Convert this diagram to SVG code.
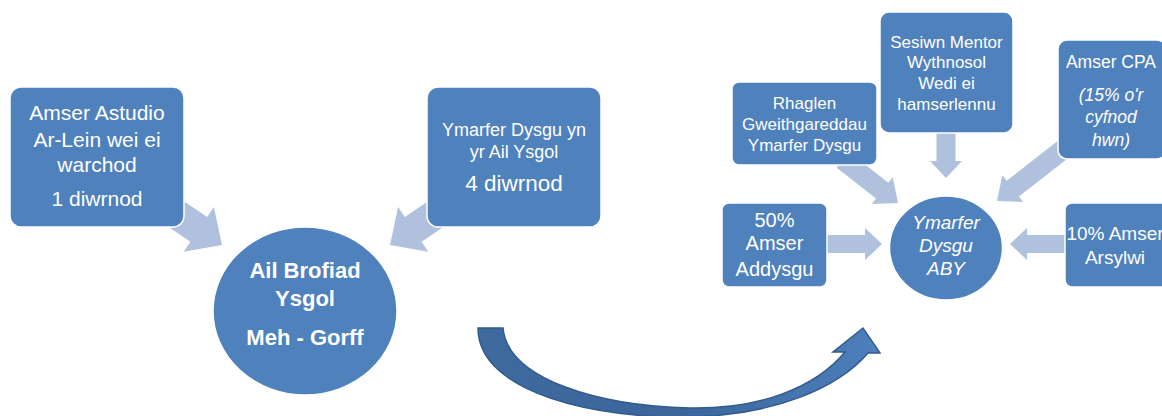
<svg xmlns="http://www.w3.org/2000/svg" width="1162" height="416" viewBox="0 0 1162 416">
<defs>
<linearGradient id="cg" x1="0" y1="0" x2="1" y2="0">
<stop offset="0" stop-color="#3f6aa0"/>
<stop offset="0.5" stop-color="#3b659b"/>
<stop offset="1" stop-color="#4e80bd"/>
</linearGradient>
</defs>
<style>
.box{fill:#4f81bd;stroke:#ffffff;stroke-width:1.5}
.arr{fill:#b0c1de}
.t{fill:#ffffff;font-family:"Liberation Sans",Arial,sans-serif;text-anchor:middle}
.b{font-weight:bold}
.i{font-style:italic}
</style>
<rect width="1162" height="416" fill="#ffffff"/>
<g id="connectors">
<polygon class="arr" transform="translate(222,245) rotate(34)" points="0,0 -28,-27 -28,-15 -70,-15 -70,15 -28,15 -28,27"/>
<polygon class="arr" transform="translate(390,245) rotate(146)" points="0,0 -28,-27 -28,-15 -70,-15 -70,15 -28,15 -28,27"/>
<polygon class="arr" transform="translate(882,244) rotate(0)" points="0,0 -17,-16 -17,-9 -55,-9 -55,9 -17,9 -17,16"/>
<polygon class="arr" transform="translate(1010,244) rotate(180)" points="0,0 -17,-16 -17,-9 -55,-9 -55,9 -17,9 -17,16"/>
<polygon class="arr" transform="translate(946,178) rotate(90)" points="0,0 -17,-16 -17,-9.5 -45,-9.5 -45,9.5 -17,9.5 -17,16"/>
<polygon class="arr" transform="translate(898,203) rotate(38)" points="0,0 -20,-17 -20,-10 -70,-10 -70,10 -20,10 -20,17"/>
<polygon class="arr" transform="translate(997,201) rotate(142)" points="0,0 -20,-17 -20,-10 -90,-10 -90,10 -20,10 -20,17"/>
<path id="curved-arrow" d="M478,328 C478,394 600,419 690,417 C775,415 838,388 868,353 L880,353 L863,328 L833,352 L845,352 C815,388 760,409 690,408 C600,406 508,380 503,328 Z" fill="url(#cg)" stroke="#335b8c" stroke-width="1.5"/>
</g>
<g id="node-astudio">
<rect class="box" x="10" y="87" width="174" height="140" rx="11"/>
<text class="t" font-size="21"><tspan x="97" y="120">Amser Astudio</tspan><tspan x="97" y="147">Ar-Lein wei ei</tspan><tspan x="97" y="172">warchod</tspan><tspan x="97" y="206">1 diwrnod</tspan></text>
</g>
<g id="node-ymarfer-ysgol">
<rect class="box" x="427" y="87" width="174" height="140" rx="11"/>
<text class="t" font-size="18"><tspan x="514" y="136">Ymarfer Dysgu yn</tspan><tspan x="514" y="158">yr Ail Ysgol</tspan></text>
<text class="t" x="514" y="191" font-size="22.5">4 diwrnod</text>
</g>
<g id="node-ail-brofiad">
<ellipse cx="305" cy="311" rx="92" ry="84" fill="#4f81bd" stroke="#ffffff" stroke-width="1.5"/>
<text class="t b" font-size="22"><tspan x="305" y="278">Ail Brofiad</tspan><tspan x="305" y="306">Ysgol</tspan><tspan x="305" y="345">Meh - Gorff</tspan></text>
</g>
<g id="node-rhaglen">
<rect class="box" x="732" y="82" width="145" height="83" rx="7"/>
<text class="t" font-size="17"><tspan x="804.5" y="109">Rhaglen</tspan><tspan x="804.5" y="130">Gweithgareddau</tspan><tspan x="804.5" y="151">Ymarfer Dysgu</tspan></text>
</g>
<g id="node-sesiwn">
<rect class="box" x="880" y="12" width="133" height="121" rx="9"/>
<text class="t" font-size="17"><tspan x="946.5" y="48">Sesiwn Mentor</tspan><tspan x="946.5" y="68">Wythnosol</tspan><tspan x="946.5" y="89">Wedi ei</tspan><tspan x="946.5" y="110">hamserlennu</tspan></text>
</g>
<g id="node-cpa">
<rect class="box" x="1058" y="40" width="108" height="119" rx="9"/>
<text class="t" x="1111" y="68" font-size="17.5">Amser CPA</text>
<text class="t i" font-size="17.5"><tspan x="1111" y="101">(15% o'r</tspan><tspan x="1111" y="123">cyfnod</tspan><tspan x="1111" y="146">hwn)</tspan></text>
</g>
<g id="node-addysgu">
<rect class="box" x="722" y="203" width="105" height="84" rx="7"/>
<text class="t" font-size="20"><tspan x="774.5" y="227">50%</tspan><tspan x="774.5" y="250">Amser</tspan><tspan x="774.5" y="276">Addysgu</tspan></text>
</g>
<g id="node-arsylwi">
<rect class="box" x="1065" y="203" width="104" height="84" rx="7"/>
<text class="t" font-size="19"><tspan x="1115" y="240">10% Amser</tspan><tspan x="1115" y="264">Arsylwi</tspan></text>
</g>
<g id="node-aby">
<ellipse cx="946" cy="248" rx="56.5" ry="52" fill="#4f81bd" stroke="#ffffff" stroke-width="1.5"/>
<text class="t i" font-size="19"><tspan x="946" y="229">Ymarfer</tspan><tspan x="946" y="252">Dysgu</tspan><tspan x="946" y="275">ABY</tspan></text>
</g>
</svg>
